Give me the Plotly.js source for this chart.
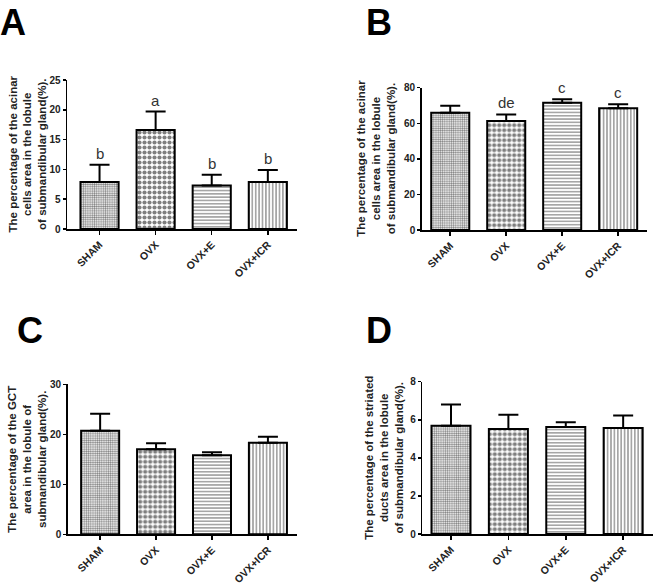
<!DOCTYPE html>
<html>
<head>
<meta charset="utf-8">
<script src="https://cdn.plot.ly/plotly-3.0.1.min.js"></script>
<style>html,body{margin:0;padding:0;background:#fff;}#chart{width:654px;height:584px;}</style>
</head>
<body>
<div id="chart"></div>
<script>
// ---- data ----
const groups = ["SHAM", "OVX", "OVX+E", "OVX+ICR"];

const acinarCountMean = [7.9, 16.6, 7.3, 7.9];
const acinarCountErrTop = [10.8, 19.7, 9.1, 9.9];
const acinarCountLetters = ["b", "a", "b", "b"];

const acinarAreaMean = [65.9, 61.3, 71.6, 68.4];
const acinarAreaErrTop = [69.9, 65.0, 73.5, 70.7];
const acinarAreaLetters = ["", "de", "c", "c"];

const gctAreaMean = [20.7, 17.0, 15.8, 18.3];
const gctAreaErrTop = [24.1, 18.2, 16.4, 19.5];

const striatedAreaMean = [5.68, 5.51, 5.62, 5.57];
const striatedAreaErrTop = [6.80, 6.27, 5.87, 6.23];

const panelLabels = ["A", "B", "C", "D"];
const yTitles = [
  "The percentage of the acinar<br>cells area in the lobule<br>of submandibular gland(%).",
  "The percentage of the acinar<br>cells area in the lobule<br>of submandibular gland(%).",
  "The percentage of the GCT<br>area in the lobule of<br>submandibular gland(%).",
  "The percentage of the striated<br>ducts area in the lobule<br>of submandibular gland(%)."
];

// ---- styling ----
const W = 654, H = 584;
const FONT = "Liberation Sans, Arial, sans-serif";
const TXT = "#222";
const patShapes = [".", ".", "-", "|"];
const patSizes = [2.2, 5, 3.3, 3.4];
const patSolid = [0.5, 0.55, 0.35, 0.35];

function dx(a, b) { return [a / W, b / W]; }
function dy(top, bottom) { return [1 - bottom / H, 1 - top / H]; }

function barTrace(means, tops, xa, ya) {
  return {
    type: "bar",
    x: groups,
    y: means,
    xaxis: xa, yaxis: ya,
    width: 0.68,
    marker: {
      color: "#ffffff",
      line: {color: "#000", width: 2},
      pattern: {shape: patShapes, size: patSizes, solidity: patSolid,
                fgcolor: "#000", bgcolor: "#ffffff", fillmode: "overlay"}
    },
    error_y: {
      type: "data", symmetric: false,
      array: tops.map((t, i) => t - means[i]),
      arrayminus: means.map(() => 0),
      color: "#000", thickness: 2, width: 10
    },
    showlegend: false,
    hoverinfo: "skip"
  };
}

const traces = [
  barTrace(acinarCountMean, acinarCountErrTop, "x", "y"),
  barTrace(acinarAreaMean, acinarAreaErrTop, "x2", "y2"),
  barTrace(gctAreaMean, gctAreaErrTop, "x3", "y3"),
  barTrace(striatedAreaMean, striatedAreaErrTop, "x4", "y4")
];

function xaxis(domain, range, anchor) {
  return {
    domain: domain, range: range, anchor: anchor,
    showline: true, linecolor: "#000", linewidth: 1.5,
    ticks: "outside", ticklen: 4, tickwidth: 1.5, tickcolor: "#000",
    tickangle: -45, showgrid: false, zeroline: false, fixedrange: true,
    tickfont: {family: FONT, size: 10.5, color: TXT, weight: "bold"}
  };
}
function yaxis(domain, range, dtick, anchor) {
  return {
    domain: domain, range: range, dtick: dtick, tick0: 0, anchor: anchor,
    showline: true, linecolor: "#000", linewidth: 1.5,
    ticks: "outside", ticklen: 3, tickwidth: 1.5, tickcolor: "#000",
    showgrid: false, zeroline: false, fixedrange: true,
    tickfont: {family: FONT, size: 10, color: TXT, weight: "bold"}
  };
}

const annotations = [];
function letters(arr, tops, xr, yr) {
  arr.forEach((t, i) => {
    if (!t) return;
    annotations.push({text: t, x: groups[i], y: tops[i], xref: xr, yref: yr,
      yanchor: "bottom", showarrow: false, yshift: 1,
      font: {family: FONT, size: 15, color: "#333"}});
  });
}
letters(acinarCountLetters, acinarCountErrTop, "x", "y");
letters(acinarAreaLetters, acinarAreaErrTop, "x2", "y2");

// panel letters (left px, top px)
const labelPos = [[-2, 0], [364, 0], [14.5, 308], [364, 308]];
panelLabels.forEach((t, i) => {
  annotations.push({text: t, xref: "paper", yref: "paper",
    x: labelPos[i][0] / W, y: 1 - labelPos[i][1] / H,
    xanchor: "left", yanchor: "top", showarrow: false,
    font: {family: FONT, size: 36, color: "#000", weight: "bold"}});
});

const layout = {
  width: W, height: H,
  margin: {l: 0, r: 0, t: 0, b: 0},
  paper_bgcolor: "#fff", plot_bgcolor: "rgba(0,0,0,0)",
  xaxis: xaxis(dx(67, 297), [-0.58, 3.52], "y"),
  yaxis: yaxis(dy(80, 229), [0, 25], 5, "x"),
  xaxis2: xaxis(dx(421.7, 646.7), [-0.51, 3.51], "y2"),
  yaxis2: yaxis(dy(87.7, 230), [0, 80], 20, "x2"),
  xaxis3: xaxis(dx(67.7, 297), [-0.58, 3.52], "y3"),
  yaxis3: yaxis(dy(384.3, 534.3), [0, 30], 10, "x3"),
  xaxis4: xaxis(dx(422.3, 653), [-0.5, 3.52], "y4"),
  yaxis4: yaxis(dy(381.7, 534), [0, 8], 2, "x4"),
  annotations: annotations
};

// y-axis titles as rotated text centred on each axis
const yKeys = ["yaxis", "yaxis2", "yaxis3", "yaxis4"];
const titleCx = [27, 376, 27.5, 384];
yKeys.forEach((k, i) => {
  const d = layout[k].domain;
  annotations.push({text: yTitles[i], xref: "paper", yref: "paper",
    x: titleCx[i] / W, y: (d[0] + d[1]) / 2, xanchor: "center", yanchor: "middle",
    textangle: -90, showarrow: false, align: "center",
    font: {family: FONT, size: 11.5, color: TXT, weight: "bold"}});
});

Plotly.newPlot("chart", traces, layout, {displayModeBar: false, staticPlot: true});
</script>
</body>
</html>
